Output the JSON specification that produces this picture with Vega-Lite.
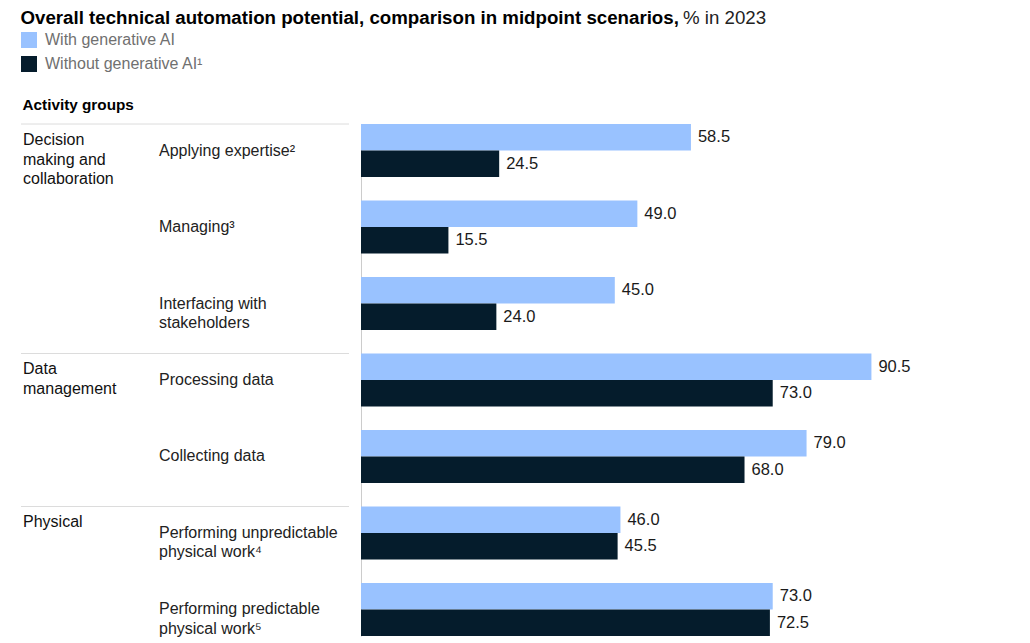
{
  "$schema": "https://vega.github.io/schema/vega-lite/v6.json",
  "padding": {"left": 20, "top": 8, "right": 0, "bottom": 0},
  "background": "white",
  "title": {
    "text": "Overall technical automation potential, comparison in midpoint scenarios,",
    "anchor": "start",
    "font": "Liberation Sans",
    "fontSize": 18.7,
    "fontWeight": "bold",
    "color": "#000000",
    "offset": -18
  },
  "datasets": {
    "bars": [
      {"group": "Decision|making and|collaboration", "activity": "Applying expertise²", "series": "With generative AI", "value": 58.5},
      {"group": "Decision|making and|collaboration", "activity": "Applying expertise²", "series": "Without generative AI¹", "value": 24.5},
      {"group": "Decision|making and|collaboration", "activity": "Managing³", "series": "With generative AI", "value": 49.0},
      {"group": "Decision|making and|collaboration", "activity": "Managing³", "series": "Without generative AI¹", "value": 15.5},
      {"group": "Decision|making and|collaboration", "activity": "Interfacing with|stakeholders", "series": "With generative AI", "value": 45.0},
      {"group": "Decision|making and|collaboration", "activity": "Interfacing with|stakeholders", "series": "Without generative AI¹", "value": 24.0},
      {"group": "Data|management", "activity": "Processing data", "series": "With generative AI", "value": 90.5},
      {"group": "Data|management", "activity": "Processing data", "series": "Without generative AI¹", "value": 73.0},
      {"group": "Data|management", "activity": "Collecting data", "series": "With generative AI", "value": 79.0},
      {"group": "Data|management", "activity": "Collecting data", "series": "Without generative AI¹", "value": 68.0},
      {"group": "Physical", "activity": "Performing unpredictable|physical work⁴", "series": "With generative AI", "value": 46.0},
      {"group": "Physical", "activity": "Performing unpredictable|physical work⁴", "series": "Without generative AI¹", "value": 45.5},
      {"group": "Physical", "activity": "Performing predictable|physical work⁵", "series": "With generative AI", "value": 73.0},
      {"group": "Physical", "activity": "Performing predictable|physical work⁵", "series": "Without generative AI¹", "value": 72.5}
    ],
    "groups": [
      {"group": "Decision|making and|collaboration", "activity": "Applying expertise²"},
      {"group": "Data|management", "activity": "Processing data"},
      {"group": "Physical", "activity": "Performing unpredictable|physical work⁴"}
    ]
  },
  "bounds": "flush",
  "spacing": 12,
  "resolve": {"scale": {"y": "independent", "x": "independent"}},
  "hconcat": [
    {
      "width": 328,
      "height": 512,
      "title": {
        "text": "Activity groups",
        "anchor": "start",
        "font": "Liberation Sans",
        "fontSize": 15.3,
        "fontWeight": "bold",
        "color": "#000000",
        "dx": 2,
        "offset": 10
      },
      "layer": [
        {
          "data": {"name": "groups"},
          "mark": {"type": "rule", "color": "#dcdcdc", "strokeWidth": 1},
          "encoding": {
            "y": {
              "field": "activity", "type": "nominal", "bandPosition": 0,
              "scale": {"domain": ["Applying expertise²", "Managing³", "Interfacing with|stakeholders", "Processing data", "Collecting data", "Performing unpredictable|physical work⁴", "Performing predictable|physical work⁵"], "paddingInner": 0.307, "paddingOuter": 0},
              "axis": null
            }
          }
        },
        {
          "data": {"name": "groups"},
          "mark": {"type": "text", "align": "left", "baseline": "top", "lineBreak": "|", "dy": 8, "font": "Liberation Sans", "fontSize": 16, "lineHeight": 19.5, "color": "#111111"},
          "encoding": {
            "x": {"datum": "group", "type": "nominal", "scale": {"type": "point", "domain": ["group", "activity"], "range": [2, 138], "padding": 0}, "axis": null},
            "y": {"field": "activity", "type": "nominal", "bandPosition": 0, "axis": null},
            "text": {"field": "group"}
          }
        },
        {
          "data": {"name": "bars"},
          "transform": [{"filter": "datum.series == 'With generative AI'"}],
          "mark": {"type": "text", "align": "left", "baseline": "middle", "lineBreak": "|", "font": "Liberation Sans", "fontSize": 16, "lineHeight": 19.5, "color": "#222222"},
          "encoding": {
            "x": {"datum": "activity", "type": "nominal", "axis": null},
            "y": {"field": "activity", "type": "nominal", "bandPosition": 0.5, "axis": null},
            "text": {"field": "activity"}
          }
        }
      ]
    },
    {
      "width": 564,
      "height": 512,
      "data": {"name": "bars"},
      "title": {
        "text": "% in 2023",
        "anchor": "start",
        "font": "Liberation Sans",
        "fontSize": 18.7,
        "fontWeight": "normal",
        "color": "#222222",
        "dx": 322,
        "dy": -96,
        "offset": 0
      },
      "encoding": {
        "y": {
          "field": "activity", "type": "nominal",
          "scale": {"domain": ["Applying expertise²", "Managing³", "Interfacing with|stakeholders", "Processing data", "Collecting data", "Performing unpredictable|physical work⁴", "Performing predictable|physical work⁵"], "paddingInner": 0.307, "paddingOuter": 0},
          "axis": {"title": null, "labels": false, "ticks": false, "grid": false, "domainColor": "#cccccc", "domainWidth": 1}
        },
        "yOffset": {"field": "series", "type": "nominal", "scale": {"domain": ["With generative AI", "Without generative AI¹"], "paddingInner": 0, "paddingOuter": 0}},
        "x": {"field": "value", "type": "quantitative", "scale": {"domain": [0, 100]}, "axis": null}
      },
      "layer": [
        {
          "mark": {"type": "bar"},
          "encoding": {
            "color": {
              "field": "series", "type": "nominal",
              "scale": {"domain": ["With generative AI", "Without generative AI¹"], "range": ["#99c2ff", "#051c2c"]},
              "legend": {
                "orient": "none", "legendX": 0, "legendY": -92, "title": null,
                "symbolType": "square", "symbolSize": 256, "symbolStrokeWidth": 0, "symbolOpacity": 1,
                "labelFont": "Liberation Sans", "labelFontSize": 16, "labelColor": "#707070",
                "labelOffset": 8, "rowPadding": 8, "padding": 0,
                "encode": {"symbols": {"update": {"fill": {"signal": "datum.value === 'With generative AI' ? '#99c2ff' : '#231f20'"}}}}
              }
            }
          }
        },
        {
          "mark": {"type": "text", "align": "left", "baseline": "middle", "dx": 7, "font": "Liberation Sans", "fontSize": 16.5, "color": "#1a1a1a"},
          "encoding": {
            "text": {"field": "value", "type": "quantitative", "format": ".1f"}
          }
        }
      ]
    }
  ],
  "config": {
    "view": {"stroke": null}
  }
}
